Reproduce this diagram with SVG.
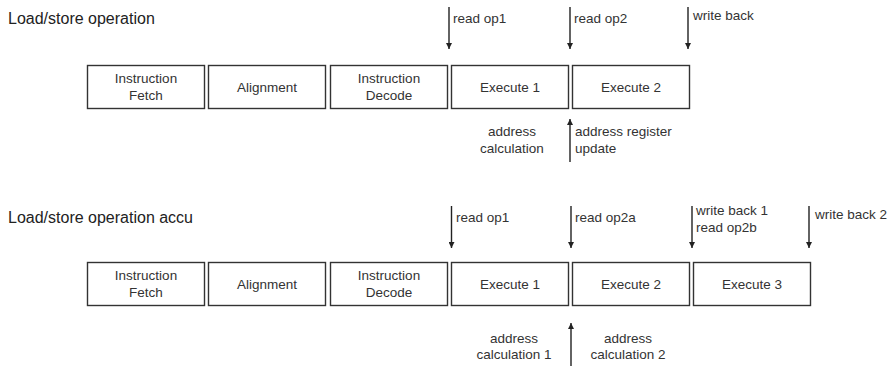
<svg xmlns="http://www.w3.org/2000/svg" width="893" height="366" viewBox="0 0 893 366">
<defs>
<marker id="ah" viewBox="0 0 10 10" refX="10" refY="5" markerWidth="6" markerHeight="6" markerUnits="userSpaceOnUse" orient="auto"><path d="M0,0 L10,5 L0,10 z" fill="#222"/></marker>
<style>
.box{fill:#fff;stroke:#333;stroke-width:1.4}
.t{font-family:"Liberation Sans",Arial,sans-serif;font-size:13.5px;fill:#333}
.c{text-anchor:middle}
.title{font-family:"Liberation Sans",Arial,sans-serif;font-size:16px;fill:#222}
.ar{stroke:#222;stroke-width:1.4;fill:none;marker-end:url(#ah)}
</style>
</defs>
<rect width="893" height="366" fill="#fff"/>
<text class="title" x="8" y="24">Load/store operation</text>
<text class="title" x="8" y="223">Load/store operation accu</text>

<g id="r1-if"><rect class="box" x="87.5" y="65.5" width="117" height="43"/><text class="t c" x="146" y="83">Instruction</text><text class="t c" x="146" y="99.5">Fetch</text></g>
<g id="r1-al"><rect class="box" x="208.5" y="65.5" width="117" height="43"/><text class="t c" x="267" y="91.5">Alignment</text></g>
<g id="r1-id"><rect class="box" x="330.5" y="65.5" width="117" height="43"/><text class="t c" x="389" y="83">Instruction</text><text class="t c" x="389" y="99.5">Decode</text></g>
<g id="r1-ex1"><rect class="box" x="451.5" y="65.5" width="117" height="43"/><text class="t c" x="510" y="91.5">Execute 1</text></g>
<g id="r1-ex2"><rect class="box" x="572.5" y="65.5" width="117" height="43"/><text class="t c" x="631" y="91.5">Execute 2</text></g>

<g id="r2-if"><rect class="box" x="87.5" y="262.5" width="117" height="43"/><text class="t c" x="146" y="280">Instruction</text><text class="t c" x="146" y="296.5">Fetch</text></g>
<g id="r2-al"><rect class="box" x="208.5" y="262.5" width="117" height="43"/><text class="t c" x="267" y="288.5">Alignment</text></g>
<g id="r2-id"><rect class="box" x="330.5" y="262.5" width="117" height="43"/><text class="t c" x="389" y="280">Instruction</text><text class="t c" x="389" y="296.5">Decode</text></g>
<g id="r2-ex1"><rect class="box" x="451.5" y="262.5" width="117" height="43"/><text class="t c" x="510" y="288.5">Execute 1</text></g>
<g id="r2-ex2"><rect class="box" x="572.5" y="262.5" width="117" height="43"/><text class="t c" x="631" y="288.5">Execute 2</text></g>
<g id="r2-ex3"><rect class="box" x="693.5" y="262.5" width="117" height="43"/><text class="t c" x="752" y="288.5">Execute 3</text></g>

<g id="connectors">
<line class="ar" x1="449" y1="7" x2="449" y2="49"/>
<line class="ar" x1="570" y1="7" x2="570" y2="49"/>
<line class="ar" x1="688" y1="7" x2="688" y2="49"/>
<line class="ar" x1="570" y1="162" x2="570" y2="119"/>
<line class="ar" x1="451.5" y1="206" x2="451.5" y2="248"/>
<line class="ar" x1="571" y1="206" x2="571" y2="248"/>
<line class="ar" x1="692" y1="206" x2="692" y2="248"/>
<line class="ar" x1="809" y1="206" x2="809" y2="248"/>
<line class="ar" x1="571" y1="366" x2="571" y2="323"/>
</g>

<g id="labels">
<text class="t" x="453" y="23">read op1</text>
<text class="t" x="574" y="23">read op2</text>
<text class="t" x="693" y="20">write back</text>
<text class="t c" x="512" y="136">address</text>
<text class="t c" x="512" y="153">calculation</text>
<text class="t" x="575" y="136">address register</text>
<text class="t" x="575" y="153">update</text>
<text class="t" x="456" y="222">read op1</text>
<text class="t" x="575" y="222">read op2a</text>
<text class="t" x="696" y="215">write back 1</text>
<text class="t" x="696" y="232">read op2b</text>
<text class="t" x="815" y="219">write back 2</text>
<text class="t c" x="514" y="343">address</text>
<text class="t c" x="514" y="359">calculation 1</text>
<text class="t c" x="628" y="343">address</text>
<text class="t c" x="628" y="359">calculation 2</text>
</g>
</svg>
